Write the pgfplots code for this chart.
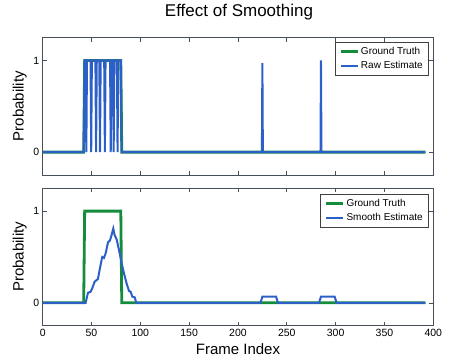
\documentclass[border=0pt]{standalone}
\usepackage{pgfplots}
\pgfplotsset{compat=1.18}
\usepackage{fontspec}
\setmainfont{Liberation Sans}
\definecolor{gt}{RGB}{20,140,60}
\definecolor{est}{RGB}{45,95,200}
\definecolor{frm}{RGB}{70,80,90}
\pgfplotsset{
  mystyle/.style={
    scale only axis, width=390.6pt, height=137.5pt,
    xmin=0, xmax=400, ymin=-0.25, ymax=1.25,
    xtick={0,50,...,400}, ytick={0,1},
    tick align=inside, major tick length=4pt,
    axis line style={frm, line width=0.8pt},
    tick style={frm, line width=0.6pt},
    ticklabel style={font=\fontsize{10.5}{12}\selectfont},
    /pgf/number format/assume math mode=true,
    ylabel=Probability,
    ylabel style={font=\fontsize{15}{17}\selectfont, at={(axis description cs:-0.059,0.5)}, anchor=center},
    legend cell align=left,
    legend style={font=\fontsize{10}{12}\selectfont, draw=black!75, line width=0.6pt, anchor=north east, row sep=1.5pt, inner xsep=4pt, inner ysep=3pt},
  }
}
\begin{document}
\begin{tikzpicture}[x=1pt,y=1pt]
\useasboundingbox (0,0) rectangle (449,359);
\node[anchor=base, font=\fontsize{17}{19}\selectfont] at (239,342.3) {Effect of Smoothing};
\begin{axis}[mystyle, at={(43.7,200.7)}, anchor=south west, xticklabels={},
  legend style={at={(0.989,0.969)}}]
\addplot[gt, line width=2.8pt, line join=miter] coordinates {
(0,0) (42,0) (43,1) (80,1) (81,0) (392,0)};
\addlegendentry{Ground Truth}
\addplot[est, line width=2.0pt] coordinates {
(0,0) (42,0) (43,1) (44,1) (44.7,0) (45.4,1) (49,1) (49.7,0) (50.4,1) (54,1) (54.7,0)
(55.4,1) (58,1) (58.7,0) (59.4,1) (63,1) (63.7,0) (64.4,1) (69,1) (69.7,0) (70.4,1) (72,1)
(72.7,0) (73.4,1) (76,1) (76.7,0) (77.4,1) (80,1) (81,0)
(224.5,0) (225,0.97) (225.5,0) (284.5,0) (285,1.0) (285.5,0) (392,0)};
\addlegendentry{Raw Estimate}
\end{axis}
\begin{axis}[mystyle, at={(43.7,36.3)}, anchor=south west,
  xlabel=Frame Index,
  xlabel style={font=\fontsize{15}{17}\selectfont, at={(axis description cs:0.5,-0.211)}, anchor=base},
  legend style={at={(0.989,0.961)}}]
\addplot[gt, line width=2.8pt, line join=miter] coordinates {
(0,0) (42,0) (43,1) (80,1) (81,0) (392,0)};
\addlegendentry{Ground Truth}
\addplot[est, line width=2.0pt] coordinates {
(0,0) (44,0) (46.4,0.11) (49.1,0.12) (50.8,0.16) (53.2,0.23) (56.6,0.26)
(58.7,0.38) (61,0.50) (62.8,0.49) (64.5,0.54) (66.9,0.66) (68.9,0.68)
(70.6,0.74) (72.3,0.81) (73.7,0.74) (75.8,0.69) (78.1,0.58) (80.5,0.45)
(83.3,0.32) (86,0.21) (88.4,0.13) (90.1,0.12) (91.8,0.067) (94.2,0.06) (95.9,0)
(223,0) (225,0.067) (239,0.067) (241,0) (283,0) (285,0.067) (299,0.067) (301,0) (392,0)};
\addlegendentry{Smooth Estimate}
\end{axis}
\end{tikzpicture}
\end{document}
